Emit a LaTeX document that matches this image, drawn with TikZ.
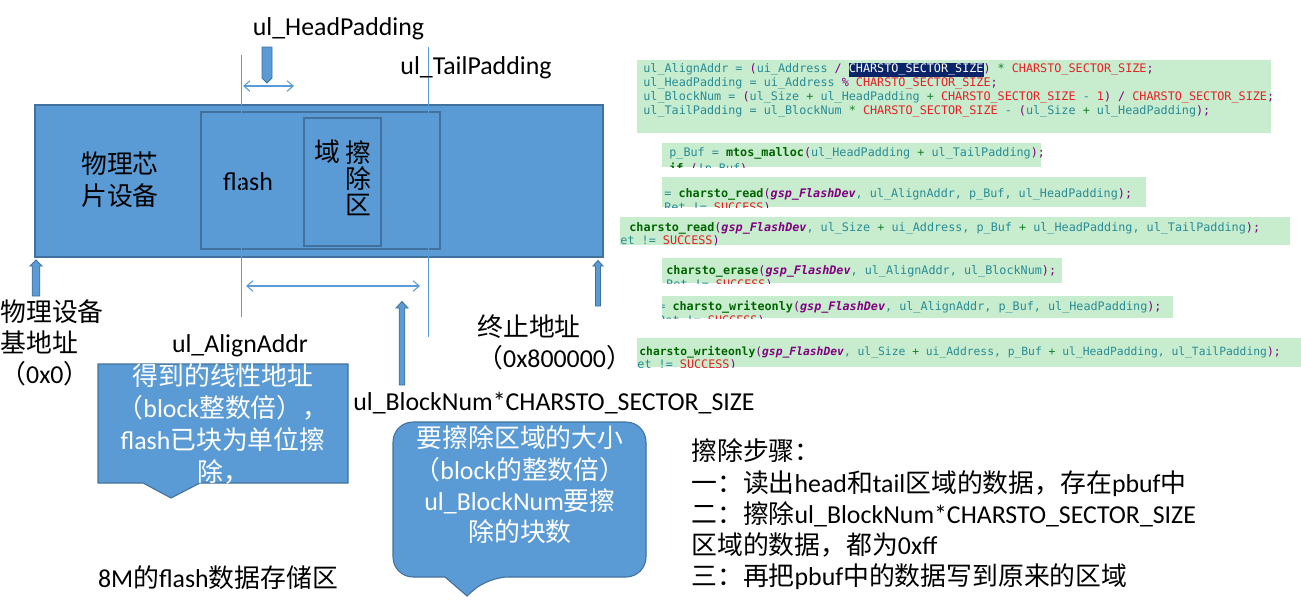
\documentclass[tikz,border=0pt]{standalone}
\usepackage{fontspec}
\usepackage{tikz}
\setmainfont{Carlito}
\newfontfamily\cjk{Noto Sans CJK SC}
\newfontfamily\codefont{DejaVu Sans Mono}
\usetikzlibrary{arrows.meta}

\definecolor{chipblue}{RGB}{91,155,213}
\definecolor{chipedge}{RGB}{65,113,156}
\definecolor{codebg}{RGB}{200,236,206}
\definecolor{codeid}{RGB}{40,140,150}
\definecolor{codemac}{RGB}{228,32,36}
\definecolor{codepar}{RGB}{128,0,128}
\definecolor{codefn}{RGB}{0,100,0}
\definecolor{codeop}{RGB}{20,130,40}
\definecolor{codesel}{RGB}{10,36,106}

\newcommand\cId[1]{\textcolor{codeid}{#1}}
\newcommand\cMac[1]{\textcolor{codemac}{#1}}
\newcommand\cPar[1]{\textcolor{codepar}{#1}}
\newcommand\cOp[1]{\textcolor{codeop}{#1}}
\newcommand\cFn[1]{\textcolor{codefn}{\bfseries #1}}
\newcommand\cVar[1]{\textcolor{codepar}{\bfseries\itshape #1}}
\newcommand\cSel[1]{{\fboxsep=0pt\colorbox{codesel}{\strut\textcolor{white}{#1}}}}

\begin{document}
\begin{tikzpicture}[x=0.02cm,y=-0.02cm,
  lbl/.style={inner sep=0pt,font=\fontsize{14.7}{18}\selectfont},
  cjklbl/.style={inner sep=0pt,font=\cjk\fontsize{14.7}{18}\selectfont},
  calltext/.style={lbl,text=white,align=center},
  blockarr/.style={fill=chipblue,draw=chipedge,line width=0.5pt},
  guide/.style={draw=chipblue,line width=0.6pt},
  dimarr/.style={guide,>={Straight Barb[length=3.5pt,width=6pt]},<->},
  panel/.style={fill=codebg},
  codeline/.style={anchor=west,inner sep=0pt,font=\codefont\fontsize{6.7}{8}\selectfont,
    text height=5pt,text depth=1.6pt}]
  \useasboundingbox (0,0) rectangle (1301,613);

  % chip and flash
  \draw[fill=chipblue,draw=chipedge,line width=0.85pt] (35,105) rectangle (603,257);
  \draw[chipedge,line width=0.6pt] (201,112) rectangle (440,249);
  \draw[chipedge,line width=0.6pt] (304,118) rectangle (381,246);
  \node[cjklbl,align=center] (chip) at (120,180) {物理芯\\片设备};
  \node[lbl,anchor=base] (flash) at (248,190) {flash};
  \node[cjklbl] (erasea) at (327,152) {域};
  \node[cjklbl,align=center,font=\cjk\fontsize{14.7}{14.9}\selectfont] (eraseb) at (358,178) {擦\\除\\区};

  % guide lines and spans
  \coordinate (gLt) at (241.5,55);
  \coordinate (gLb) at (241.5,317);
  \coordinate (gRt) at (428.5,47);
  \coordinate (gRb) at (428.5,337);
  \draw[guide] (gLt) -- (gLb);
  \draw[guide] (gRt) -- (gRb);
  \coordinate (hpL) at (243,86);
  \coordinate (hpR) at (294,86);
  \draw[dimarr] (hpL) -- (hpR);
  \coordinate (bnL) at (246,286);
  \coordinate (bnR) at (420,286);
  \draw[dimarr] (bnL) -- (bnR);

  % block arrows
  \draw[blockarr] (262,47) -- (272,47) -- (272,78) -- (267,83) -- (262,78) -- cycle;
  \draw[blockarr] (32.2,296) -- (32.2,266) -- (30,266) -- (36,260) -- (42,266) -- (39.8,266) -- (39.8,296) -- cycle;
  \draw[blockarr] (595.5,306) -- (595.5,266) -- (593,266) -- (598,260.5) -- (603,266) -- (600.5,266) -- (600.5,306) -- cycle;
  \draw[blockarr] (399.2,385) -- (399.2,308) -- (396,308) -- (402,301.5) -- (408,308) -- (404.8,308) -- (404.8,385) -- cycle;

  % labels
  \node[lbl,anchor=base] (headpad) at (338.5,35) {ul\_HeadPadding};
  \node[lbl,anchor=base] (tailpad) at (476,74) {ul\_TailPadding};
  \node[lbl,anchor=base] (align) at (240,352) {ul\_AlignAddr};
  \node[lbl,anchor=base] (blocknum) at (554,410) {ul\_BlockNum*CHARSTO\_SECTOR\_SIZE};
  \node[lbl,anchor=west,align=left,font=\fontsize{14.7}{17.6}\selectfont] (base) at (0,343)
    {{\cjk 物理设备}\\{\cjk 基地址}\\{\cjk （}0x0{\cjk ）}};
  \node[lbl,anchor=west,align=left,font=\fontsize{14.7}{17.6}\selectfont] (end) at (477,342.5)
    {{\cjk 终止地址}\\{\cjk （}0x800000{\cjk ）}};
  \node[lbl] (store) at (218,578) {8M{\cjk 的}flash{\cjk 数据存储区}};

  % callouts
  \draw[fill=chipblue,draw=chipedge,line width=0.6pt] (98,364) -- (348,364) -- (348,483)
    -- (200,483) -- (171,498) -- (143,483) -- (98,483) -- cycle;
  \node[calltext,font=\fontsize{14.7}{18.1}\selectfont] (alignnote) at (223,424)
    {{\cjk 得到的线性地址}\\{\cjk （}block{\cjk 整数倍），}\\flash{\cjk 已块为单位擦}\\{\cjk 除，}};
  \draw[fill=chipblue,draw=chipedge,line width=0.6pt] (467,596) -- (445,577)
    [rounded corners=0.4cm] -- (393,577) -- (393,422) -- (646,422) -- (646,577) -- (488,577)
    [sharp corners] -- cycle;
  \node[calltext,font=\fontsize{14.7}{17.8}\selectfont] (sizenote) at (520,485)
    {{\cjk 要擦除区域的大小}\\{\cjk （}block{\cjk 的整数倍）}\\ul\_BlockNum{\cjk 要擦}\\{\cjk 除的块数}};

  % steps
  \node[lbl,anchor=west,align=left,font=\fontsize{14.7}{17.75}\selectfont] (steps) at (691,514.5)
    {{\cjk 擦除步骤：}\\
     {\cjk 一：读出}head{\cjk 和}tail{\cjk 区域的数据，存在}pbuf{\cjk 中}\\
     {\cjk 二：擦除}ul\_BlockNum*CHARSTO\_SECTOR\_SIZE\\
     {\cjk 区域的数据，都为}0xff\\
     {\cjk 三：再把}pbuf{\cjk 中的数据写到原来的区域}};

  % code snippets
  \begin{scope}
    \clip (637,60) rectangle (1271,133);
    \fill[panel] (637,60) rectangle (1271,133);
    \node[codeline] (pa1) at (643,70) {\cId{ul\_AlignAddr = }\cPar{(}\cId{ui\_Address }\cPar{/ }\cSel{CHARSTO\_SECTOR\_SIZE}\cPar{)} \cOp{*} \cMac{CHARSTO\_SECTOR\_SIZE}\cPar{;}};
    \node[codeline] (pa2) at (643,84) {\cId{ul\_HeadPadding = ui\_Address }\cPar{\%} \cMac{CHARSTO\_SECTOR\_SIZE}\cPar{;}};
    \node[codeline] (pa3) at (643,98) {\cId{ul\_BlockNum = }\cPar{(}\cId{ul\_Size }\cOp{+} \cId{ul\_HeadPadding }\cOp{+} \cMac{CHARSTO\_SECTOR\_SIZE }\cId{- }\cMac{1}\cPar{) / }\cMac{CHARSTO\_SECTOR\_SIZE}\cPar{;}};
    \node[codeline] (pa4) at (643,112) {\cId{ul\_TailPadding = ul\_BlockNum }\cOp{*} \cMac{CHARSTO\_SECTOR\_SIZE }\cId{- }\cPar{(}\cId{ul\_Size }\cOp{+} \cId{ul\_HeadPadding}\cPar{);}};
  \end{scope}
  \begin{scope}
    \clip (662,143) rectangle (1041,167);
    \fill[panel] (662,143) rectangle (1041,167);
    \node[codeline] (pb1) at (669,154) {\cId{p\_Buf = }\cFn{mtos\_malloc}\cPar{(}\cId{ul\_HeadPadding }\cOp{+} \cId{ul\_TailPadding}\cPar{);}};
    \node[codeline] (pb2) at (669,170) {\cFn{if} \cPar{(}\cId{!p\_Buf}\cPar{)}};
  \end{scope}
  \begin{scope}
    \clip (662,177) rectangle (1146,207);
    \fill[panel] (662,177) rectangle (1146,207);
    \node[codeline] (pc1) at (664,195) {\cId{= }\cFn{charsto\_read}\cPar{(}\cVar{gsp\_FlashDev}\cId{, ul\_AlignAddr, p\_Buf, ul\_HeadPadding}\cPar{);}};
    \node[codeline] (pc2) at (664,209) {\cId{Ret != }\cMac{SUCCESS}\cPar{)}};
  \end{scope}
  \begin{scope}
    \clip (620,217) rectangle (1290,245);
    \fill[panel] (620,217) rectangle (1290,245);
    \node[codeline] (pd1) at (629,229) {\cFn{charsto\_read}\cPar{(}\cVar{gsp\_FlashDev}\cId{, ul\_Size }\cOp{+} \cId{ui\_Address, p\_Buf }\cOp{+} \cId{ul\_HeadPadding, ul\_TailPadding}\cPar{);}};
    \node[codeline] (pd2) at (613,242) {\cId{ret != }\cMac{SUCCESS}\cPar{)}};
  \end{scope}
  \begin{scope}
    \clip (662,258) rectangle (1062,283);
    \fill[panel] (662,258) rectangle (1062,283);
    \node[codeline] (pe1) at (666,272) {\cFn{charsto\_erase}\cPar{(}\cVar{gsp\_FlashDev}\cId{, ul\_AlignAddr, ul\_BlockNum}\cPar{);}};
    \node[codeline] (pe2) at (666,286) {\cId{Ret != }\cMac{SUCCESS}\cPar{)}};
  \end{scope}
  \begin{scope}
    \clip (662,296) rectangle (1173,318);
    \fill[panel] (662,296) rectangle (1173,318);
    \node[codeline] (pf1) at (658,308) {\cId{= }\cFn{charsto\_writeonly}\cPar{(}\cVar{gsp\_FlashDev}\cId{, ul\_AlignAddr, p\_Buf, ul\_HeadPadding}\cPar{);}};
    \node[codeline] (pf2) at (658,322) {\cId{Ret != }\cMac{SUCCESS}\cPar{)}};
  \end{scope}
  \begin{scope}
    \clip (637,338) rectangle (1301,367);
    \fill[panel] (637,338) rectangle (1301,367);
    \node[codeline,font=\codefont\fontsize{6.45}{8}\selectfont] (pg1) at (639,353) {\cFn{charsto\_writeonly}\cPar{(}\cVar{gsp\_FlashDev}\cId{, ul\_Size }\cOp{+} \cId{ui\_Address, p\_Buf }\cOp{+} \cId{ul\_HeadPadding, ul\_TailPadding}\cPar{);}};
    \node[codeline] (pg2) at (630,366) {\cId{ret != }\cMac{SUCCESS}\cPar{)}};
  \end{scope}
\end{tikzpicture}
\end{document}
